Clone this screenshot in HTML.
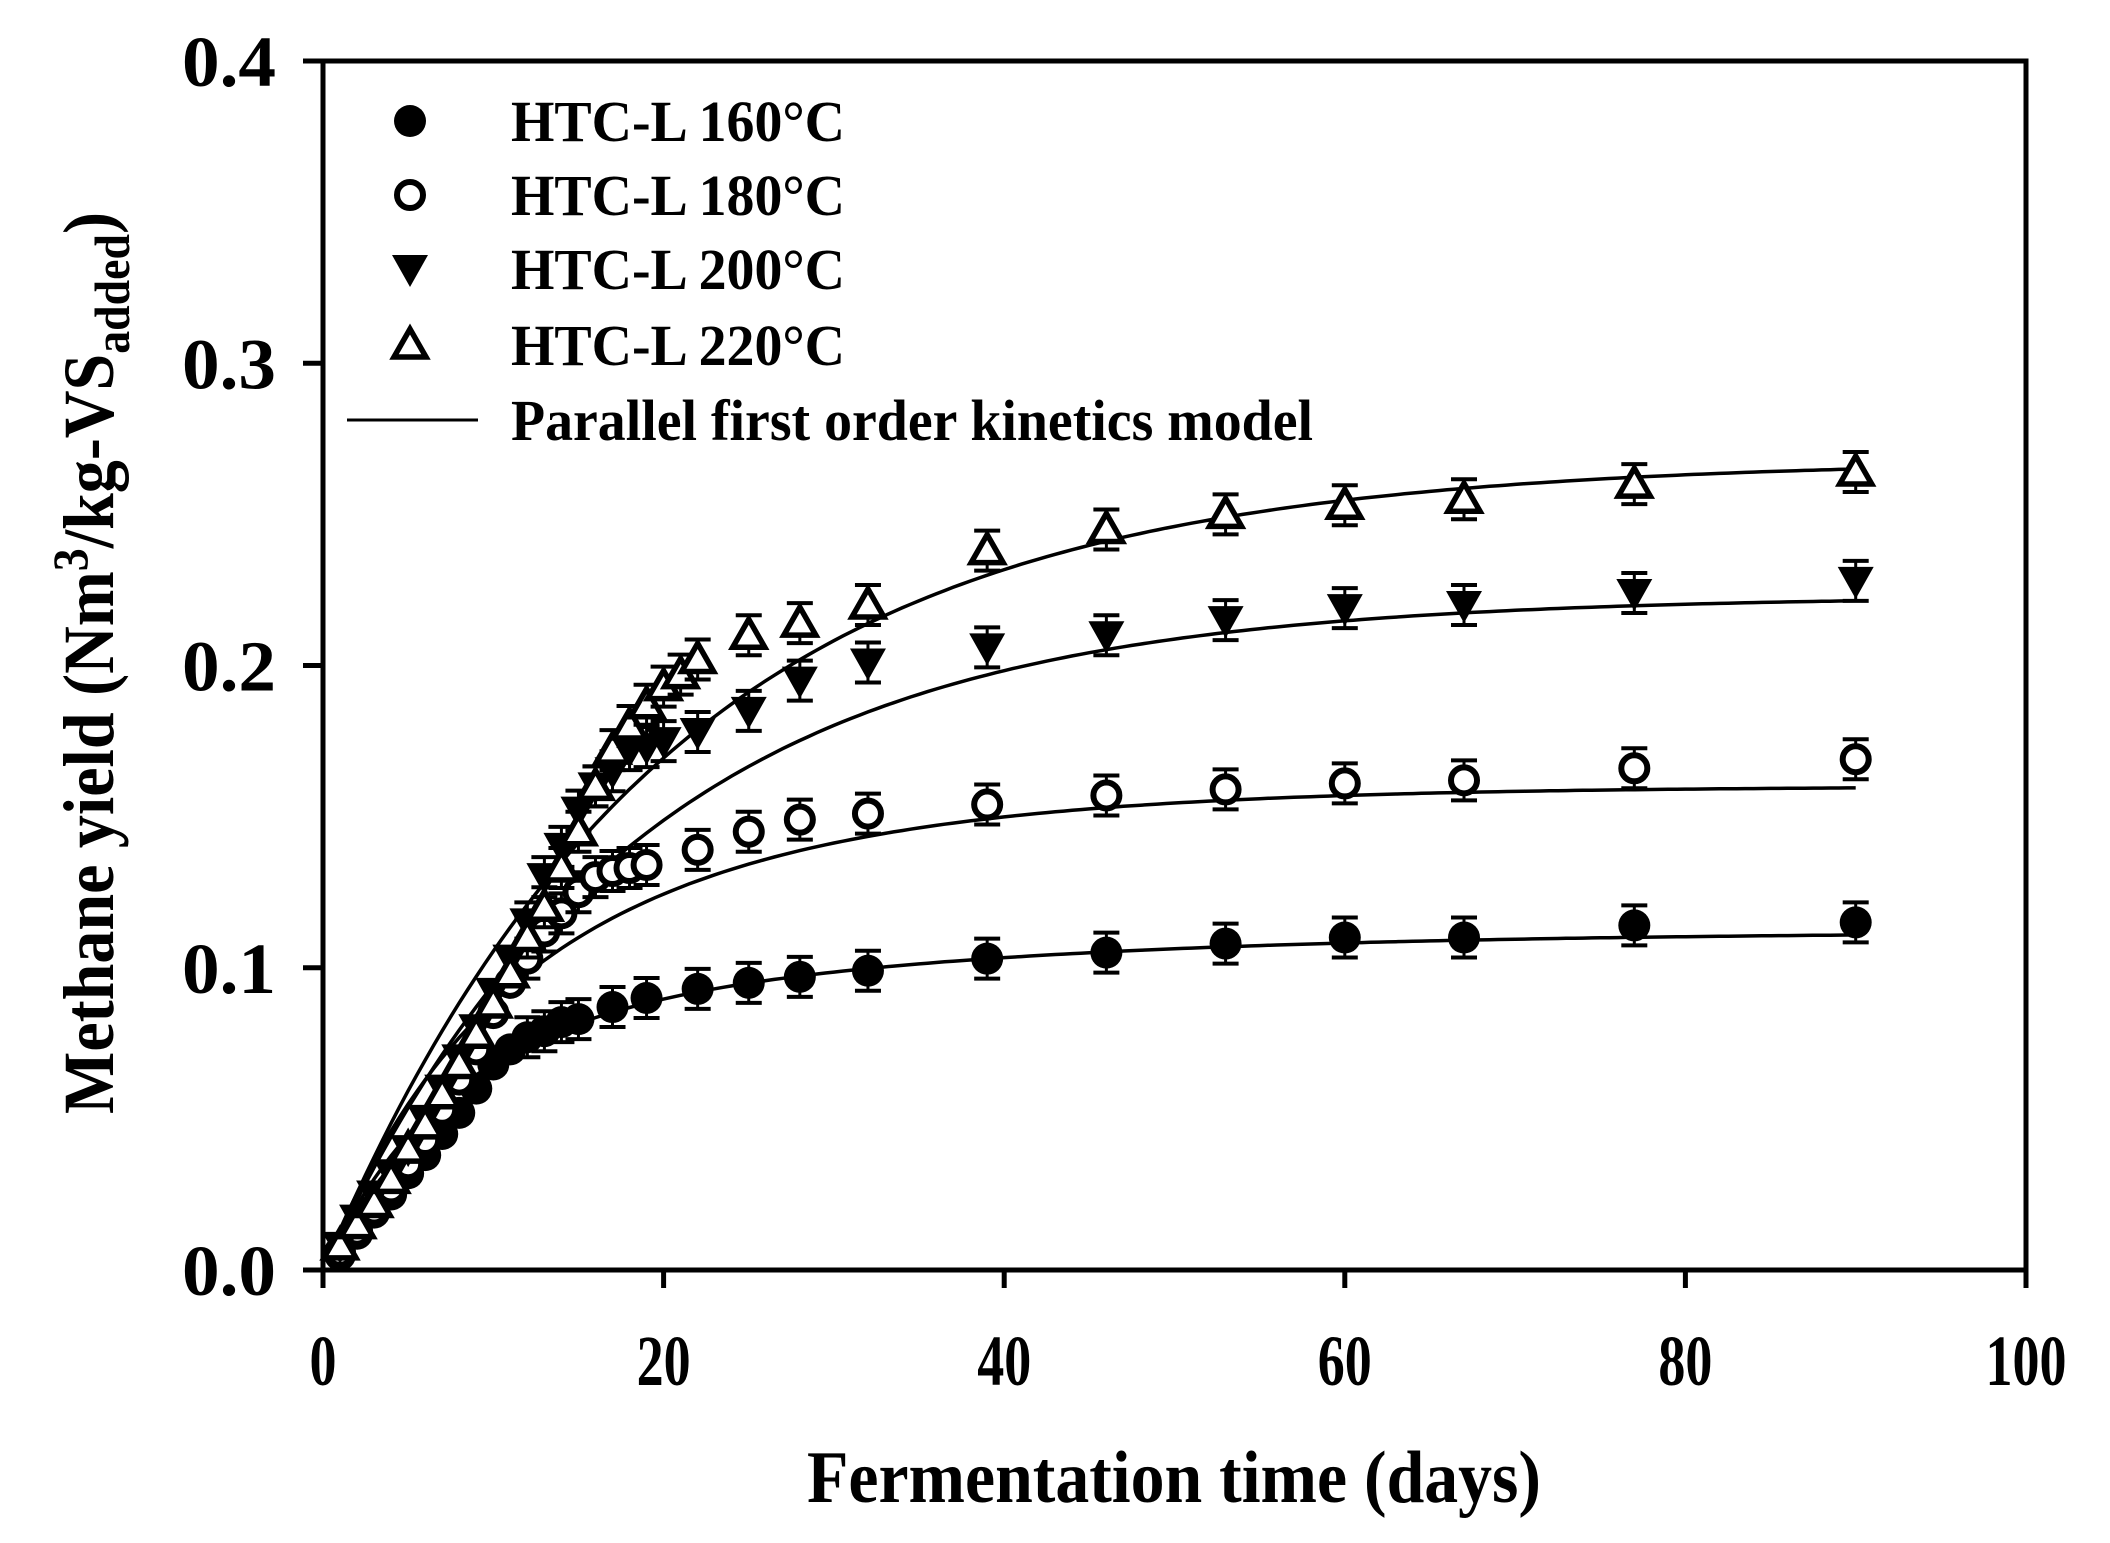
<!DOCTYPE html>
<html><head><meta charset="utf-8"><style>
html,body{margin:0;padding:0;background:#fff}
svg{display:block}
text{font-family:"Liberation Serif",serif;font-weight:bold;fill:#000}
</style></head><body>
<svg id="s" width="2110" height="1543" xmlns="http://www.w3.org/2000/svg">
<rect width="2110" height="1543" fill="#fff"/>
<g id="ax" stroke="#000" stroke-width="5" fill="none">
<rect x="323" y="61" width="1703" height="1209"/>
</g>
<g id="ticks" stroke="#000" stroke-width="5"></g>
<g id="lbl" font-size="72"></g>
<text x="1174" y="1502" font-size="74" text-anchor="middle" textLength="734" lengthAdjust="spacingAndGlyphs">Fermentation time (days)</text>
<text transform="translate(113,663) rotate(-90)" font-size="72" text-anchor="middle" textLength="902" lengthAdjust="spacingAndGlyphs">Methane yield (Nm<tspan font-size="50" dy="-26">3</tspan><tspan dy="26">/kg-VS</tspan><tspan font-size="50" dy="16">added</tspan><tspan dy="-16">)</tspan></text>
<g id="curves" stroke="#000" stroke-width="3.5" fill="none"></g>
<g id="pts"></g>
<g id="leg" font-size="58"></g>
</svg>
<script>
var NS="http://www.w3.org/2000/svg";
function X(t){return 323+t*17.03}
function Y(v){return 1270-v*3022.5}
function el(p,n,a,txt){var e=document.createElementNS(NS,n);for(var k in a)e.setAttribute(k,a[k]);if(txt!=null)e.textContent=txt;document.getElementById(p).appendChild(e);return e}
for(var i=0;i<=5;i++){var x=X(i*20);var s=String(i*20);el('ticks','line',{x1:x,y1:1270,x2:x,y2:1288});el('lbl','text',{x:x,y:1385,'text-anchor':'middle',textLength:s.length*27,lengthAdjust:'spacingAndGlyphs'},s);}
for(var i=0;i<=4;i++){var y=Y(i/10);el('ticks','line',{x1:303,y1:y,x2:323,y2:y});el('lbl','text',{x:276,y:y+25,'text-anchor':'end',textLength:94,lengthAdjust:'spacingAndGlyphs'},(i/10).toFixed(1));}
var f=[
 function(t){return 0.07*(1-Math.exp(-0.15*t))+0.042*(1-Math.exp(-0.04*t))},
 function(t){return 0.05*(1-Math.exp(-0.15*t))+0.11*(1-Math.exp(-0.06*t))},
 function(t){return 0.223*(1-Math.exp(-0.055*t))},
 function(t){return 0.268*(1-Math.exp(-0.05*t))}];
f.forEach(function(g){var d='';for(var t=0.5;t<=90.01;t+=0.5){d+=(d?'L':'M')+X(t).toFixed(1)+','+Y(g(t)).toFixed(1)}el('curves','path',{d:d})});
var D=[
 {1:.005,2:.012,3:.019,4:.025,5:.032,6:.038,7:.045,8:.052,9:.06,10:.068,11:.073,12:.077,13:.079,14:.082,15:.083,17:.087,19:.09,22:.093,25:.095,28:.097,32:.099,39:.103,46:.105,53:.108,60:.11,67:.11,77:.114,90:.115},
 {1:.006,2:.013,3:.02,4:.027,5:.035,6:.043,7:.053,8:.063,9:.073,10:.085,11:.095,12:.103,13:.112,14:.118,15:.125,16:.13,17:.132,18:.133,19:.134,22:.139,25:.145,28:.149,32:.151,39:.154,46:.157,53:.159,60:.161,67:.162,77:.166,90:.169},
 {1:.008,2:.017,3:.025,4:.032,5:.04,6:.05,7:.06,8:.07,9:.08,10:.092,11:.103,12:.115,13:.13,14:.14,15:.152,16:.16,17:.165,18:.172,19:.173,20:.175,22:.178,25:.185,28:.195,32:.201,39:.206,46:.21,53:.215,60:.219,67:.22,77:.224,90:.228},
 {1:.008,2:.015,3:.022,4:.03,5:.04,6:.048,7:.058,8:.068,9:.078,10:.088,11:.098,12:.11,13:.12,14:.133,15:.145,16:.16,17:.172,18:.18,19:.187,20:.193,21:.197,22:.202,25:.21,28:.214,32:.22,39:.238,46:.245,53:.25,60:.253,67:.255,77:.26,90:.264}];
function marker(p,k,x,y){
 if(k==0)el(p,'circle',{cx:x,cy:y,r:16,fill:'#000'});
 else if(k==1)el(p,'circle',{cx:x,cy:y,r:13,fill:'#fff',stroke:'#000','stroke-width':6});
 else if(k==2)el(p,'path',{d:'M'+(x-18)+','+(y-14)+'L'+(x+18)+','+(y-14)+'L'+x+','+(y+18)+'Z',fill:'#000'});
 else el(p,'path',{d:'M'+(x-16)+','+(y+12)+'L'+(x+16)+','+(y+12)+'L'+x+','+(y-16)+'Z',fill:'#fff',stroke:'#000','stroke-width':5.5,'stroke-linejoin':'miter'});
}
D.forEach(function(s,k){for(var t in s){var x=X(+t),y=Y(s[t]);
 if(+t>=12){el('pts','line',{x1:x,y1:y-20,x2:x,y2:y+20,stroke:'#000','stroke-width':3});el('pts','line',{x1:x-13,y1:y+20,x2:x+13,y2:y+20,stroke:'#000','stroke-width':4});el('pts','line',{x1:x-13,y1:y-20,x2:x+13,y2:y-20,stroke:'#000','stroke-width':4});}
 marker('pts',k,x,y);}});
var names=['HTC-L 160°C','HTC-L 180°C','HTC-L 200°C','HTC-L 220°C'];
var ly=[121,195,269,345];
names.forEach(function(n,k){marker('leg',k,410,ly[k]);el('leg','text',{x:511,y:ly[k]+20,textLength:334,lengthAdjust:'spacingAndGlyphs'},n)});
el('leg','line',{x1:347,y1:420,x2:478,y2:420,stroke:'#000','stroke-width':3});
el('leg','text',{x:511,y:440,textLength:802,lengthAdjust:'spacingAndGlyphs'},'Parallel first order kinetics model');
</script>
</body></html>
